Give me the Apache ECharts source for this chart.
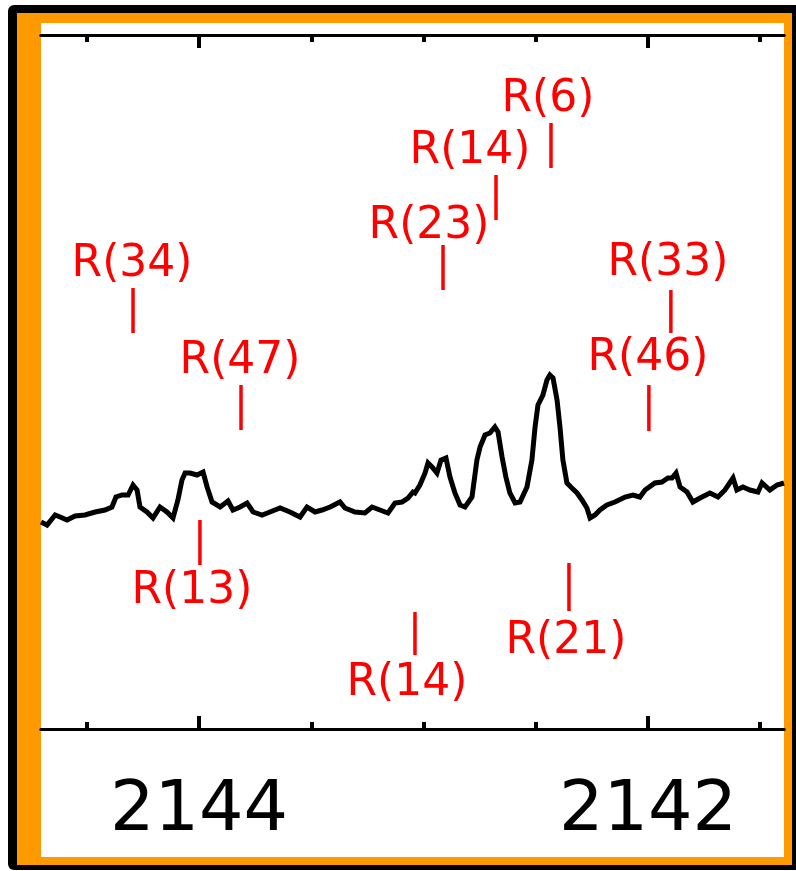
<!DOCTYPE html>
<html>
<head>
<meta charset="utf-8">
<script src="https://cdn.jsdelivr.net/npm/echarts@6/dist/echarts.min.js"></script>
<style>
html,body{margin:0;padding:0;background:#fff;}
#chart{width:796px;height:871px;}
</style>
</head>
<body>
<div id="chart"></div>
<script>
// ---- data ----
const wavenumber = [2144.704,2144.677,2144.641,2144.619,2144.588,2144.552,2144.508,2144.463,2144.419,2144.388,2144.370,2144.343,2144.316,2144.294,2144.276,2144.263,2144.232,2144.205,2144.174,2144.143,2144.116,2144.094,2144.076,2144.062,2144.040,2144.009,2143.982,2143.964,2143.942,2143.906,2143.871,2143.849,2143.817,2143.786,2143.759,2143.719,2143.684,2143.639,2143.595,2143.550,2143.519,2143.483,2143.452,2143.416,2143.372,2143.350,2143.305,2143.261,2143.229,2143.194,2143.158,2143.127,2143.096,2143.069,2143.047,2143.038,2143.016,2142.993,2142.980,2142.962,2142.940,2142.922,2142.900,2142.882,2142.860,2142.837,2142.815,2142.784,2142.762,2142.748,2142.726,2142.704,2142.682,2142.668,2142.650,2142.633,2142.615,2142.592,2142.570,2142.539,2142.517,2142.503,2142.490,2142.468,2142.450,2142.437,2142.423,2142.405,2142.392,2142.379,2142.361,2142.339,2142.316,2142.294,2142.272,2142.258,2142.236,2142.214,2142.183,2142.147,2142.102,2142.067,2142.036,2142.013,2141.969,2141.938,2141.911,2141.893,2141.875,2141.857,2141.826,2141.800,2141.768,2141.724,2141.688,2141.657,2141.621,2141.604,2141.577,2141.546,2141.510,2141.492,2141.457,2141.425,2141.394];
const intensity = [20.7,20.4,21.4,21.2,20.9,21.3,21.4,21.7,21.9,22.2,23.2,23.4,23.4,24.4,23.9,22.2,21.7,21.1,22.2,21.7,21.1,22.9,24.9,25.6,25.6,25.4,25.7,24.2,22.7,22.2,22.8,21.9,22.2,22.6,21.7,21.4,21.7,22.1,21.7,21.2,22.2,21.7,21.9,22.2,22.7,22.1,21.7,21.6,22.2,21.9,21.6,22.6,22.7,23.1,23.7,23.6,24.4,25.6,26.6,26.2,25.6,26.9,27.1,25.2,23.6,22.4,22.2,23.2,26.9,28.2,29.4,29.6,30.2,29.7,27.2,25.2,23.6,22.6,22.7,24.2,26.9,30.2,32.4,33.4,34.9,35.4,35.1,32.9,30.2,26.9,24.6,24.1,23.6,22.9,22.1,21.1,21.4,21.9,22.4,22.7,23.2,23.4,23.2,23.9,24.6,24.7,25.1,25.1,25.6,24.2,23.7,22.7,23.1,23.6,23.2,23.9,25.1,23.9,24.2,23.9,23.7,24.6,23.9,24.4,24.6];

const markerNames  = ['R(34)','R(47)','R(13)','R(23)','R(14)','R(6)','R(46)','R(33)','R(14)','R(21)'];
const markerPos    = [2144.294,2143.813,2143.996,2142.913,2142.677,2142.432,2141.996,2141.898,2143.038,2142.352];
const markerTop    = [44.1,34.4,20.9,48.4,55.4,60.6,34.4,43.9,11.7,16.6];
const markerBottom = [39.6,29.9,16.4,43.9,50.9,56.1,29.8,39.6,7.4,11.8];
const markerSide   = ['above','above','below','above','above','above','above','above','below','below'];

const majorTicks = [2142, 2144];
const minorTicks = [2141.5, 2142, 2142.5, 2143, 2143.5, 2144, 2144.5];

const xMin = 2141.394, xMax = 2144.704;

// ---- layout/style (not data) ----
const labelShift = [-1,-1,-8,-14,-26,-3,-1,-3,-8,-3];
const labelGap   = [10,10,8,5,10,10,13,13,10,12];
const RED = '#ff0000';

const spectrum = wavenumber.map((w, i) => [w, intensity[i]]);
const markers = markerNames.map((n, i) => [markerPos[i], markerTop[i], markerBottom[i], i]);

const chart = echarts.init(document.getElementById('chart'), null, {renderer: 'canvas'});

function axis(pos, ticks, len, labels) {
  return {
    type: 'value', position: pos, inverse: true, min: xMin, max: xMax,
    axisLine: {show: true, onZero: false, lineStyle: {color: '#000', width: 3}},
    axisTick: {show: true, inside: true, length: len, customValues: ticks, lineStyle: {color: '#000', width: 4}},
    axisLabel: labels ? {
      show: true, customValues: majorTicks, margin: 48, color: '#000',
      fontFamily: 'DejaVu Sans', fontSize: 70, lineHeight: 70,
      formatter: v => String(Math.round(v))
    } : {show: false},
    splitLine: {show: false}
  };
}

const option = {
  animation: false,
  backgroundColor: '#fff',
  graphic: [
    {type: 'rect', z: -10, shape: {x: 8, y: 5, width: 800, height: 865, r: 6}, style: {fill: '#000'}},
    {type: 'rect', z: -9, shape: {x: 17, y: 13, width: 775, height: 852}, style: {fill: '#ff9900'}},
    {type: 'rect', z: -8, shape: {x: 41, y: 23, width: 743, height: 834}, style: {fill: '#fff'}}
  ],
  grid: {left: 41, right: 12, top: 35, bottom: 142, containLabel: false},
  xAxis: [
    axis('bottom', majorTicks, 13, true),
    axis('bottom', minorTicks, 7, false),
    axis('top', majorTicks, 13, false),
    axis('top', minorTicks, 7, false)
  ],
  yAxis: {type: 'value', min: 0, max: 69.4, show: false},
  series: [
    {
      type: 'line', xAxisIndex: 0, data: spectrum, showSymbol: false, z: 3,
      lineStyle: {color: '#000', width: 5, join: 'miter'}
    },
    {
      type: 'custom', xAxisIndex: 0, data: markers, z: 4,
      renderItem: function (params, api) {
        const i = api.value(3);
        const pTop = api.coord([api.value(0), api.value(1)]);
        const pBot = api.coord([api.value(0), api.value(2)]);
        const above = markerSide[i] === 'above';
        const capHalf = 16;
        const ty = above ? pTop[1] - labelGap[i] - capHalf + 3 : pBot[1] + labelGap[i] + capHalf + 3;
        return {
          type: 'group',
          children: [
            {type: 'line', shape: {x1: pTop[0], y1: pTop[1], x2: pBot[0], y2: pBot[1]},
             style: {stroke: RED, lineWidth: 3.5}},
            {type: 'text', x: pTop[0] + labelShift[i], y: ty,
             style: {text: markerNames[i], fill: RED, font: '44px "DejaVu Sans"', align: 'center', verticalAlign: 'middle'}}
          ]
        };
      }
    }
  ]
};
chart.setOption(option);
</script>
</body>
</html>
